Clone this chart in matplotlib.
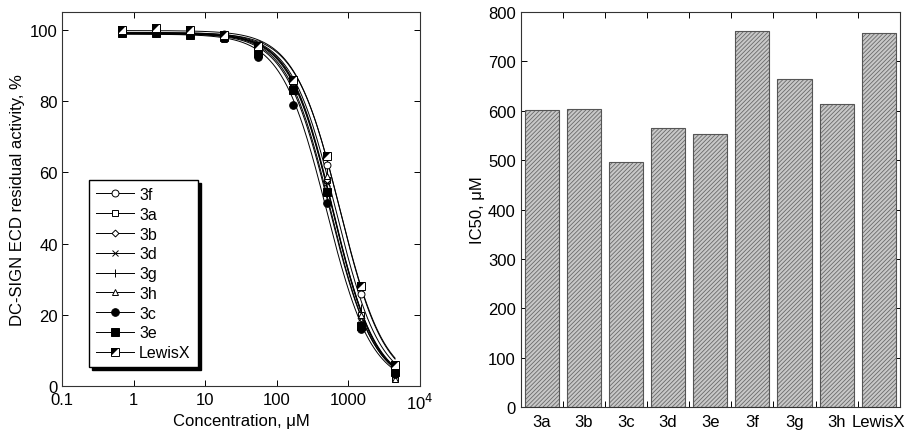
import numpy as np
import matplotlib
import matplotlib.pyplot as plt
from matplotlib.path import Path
from matplotlib.ticker import FixedLocator, FixedFormatter, NullLocator
from matplotlib.legend_handler import HandlerTuple

plt.rcParams['font.family'] = ['Liberation Sans', 'DejaVu Sans']
plt.rcParams['hatch.linewidth'] = 0.6

# concentrations (uM), 3-fold dilution
conc = [0.69, 2.06, 6.17, 18.5, 55.6, 167, 500, 1500, 4500]

# residual activity, % (order as in legend)
names = ['3f', '3a', '3b', '3d', '3g', '3h', '3c', '3e', 'LewisX']
act_3f = [99.5, 99.3, 99.0, 98.8, 96.0, 86.0, 62.0, 26.0, 4.0]
act_3a = [99.2, 99.0, 98.8, 98.0, 95.0, 84.0, 58.0, 20.0, 2.0]
act_3b = [99.0, 99.0, 98.8, 98.2, 95.0, 84.0, 58.0, 19.0, 3.0]
act_3d = [99.0, 99.2, 99.0, 98.0, 95.0, 84.0, 57.0, 19.0, 3.0]
act_3g = [99.5, 99.5, 99.2, 98.5, 95.5, 85.0, 60.0, 22.0, 3.0]
act_3h = [99.3, 99.0, 99.0, 97.5, 95.0, 84.0, 59.0, 20.0, 2.0]
act_3c = [99.0, 99.0, 98.5, 98.0, 92.5, 79.0, 51.5, 16.0, 3.5]
act_3e = [99.0, 99.2, 98.5, 98.0, 93.5, 83.0, 54.5, 17.0, 4.0]
act_lx = [100.0, 100.5, 100.0, 98.5, 95.5, 86.0, 64.5, 28.0, 6.0]
acts = [act_3f, act_3a, act_3b, act_3d, act_3g, act_3h, act_3c, act_3e, act_lx]

# IC50 bar chart
cats = ['3a', '3b', '3c', '3d', '3e', '3f', '3g', '3h', 'LewisX']
ic50 = [602, 604, 496, 565, 552, 761, 665, 613, 758]

# fitted curve parameters (top %, hill slope) per series in legend order
fit_top = [99.2, 99.0, 99.0, 99.0, 99.3, 99.0, 98.8, 98.9, 99.8]
fit_hill = [1.40, 1.45, 1.42, 1.42, 1.40, 1.45, 1.38, 1.40, 1.38]

fig = plt.figure(figsize=(9.2, 4.35), dpi=100)
ax1 = fig.add_axes([0.0674, 0.110, 0.389, 0.860])
ax2 = fig.add_axes([0.566, 0.062, 0.412, 0.908])

# custom half-filled square (upper-left black)
tri = Path([(-1, -1), (-1, 1), (1, 1), (-1, -1)],
           [Path.MOVETO, Path.LINETO, Path.LINETO, Path.CLOSEPOLY])

mk = {'3f': dict(marker='o', mfc='white', ms=5),
      '3a': dict(marker='s', mfc='white', ms=5),
      '3b': dict(marker='D', mfc='white', ms=3.5),
      '3d': dict(marker='x', ms=5),
      '3g': dict(marker='|', ms=6),
      '3h': dict(marker='^', mfc='white', ms=5),
      '3c': dict(marker='o', mfc='black', ms=5.5),
      '3e': dict(marker='s', mfc='black', ms=5.5),
      'LewisX': dict(marker='s', mfc='white', ms=5.5)}

ic_map = dict(zip(cats, ic50))
xs = np.logspace(np.log10(conc[0]), np.log10(conc[-1]), 200)
handles = []
for i, nm in enumerate(names):
    y = fit_top[i] / (1 + (xs / ic_map[nm]) ** fit_hill[i])
    ax1.plot(xs, y, color='black', lw=0.7, zorder=2)
    ax1.plot(conc, acts[i], ls='none', color='black', mec='black', mew=0.7,
             zorder=3, **mk[nm])
    h, = ax1.plot([], [], color='black', lw=0.7, mec='black', mew=0.7, **mk[nm])
    if nm == 'LewisX':
        ax1.plot(conc, acts[i], ls='none', marker=tri, ms=5.5, color='black',
                 mew=0, zorder=4)
        h2, = ax1.plot([], [], ls='none', marker=tri, ms=5.5, color='black', mew=0)
        handles.append((h, h2))
    else:
        handles.append(h)

leg = ax1.legend(handles, names, loc='lower left', bbox_to_anchor=(0.075, 0.05),
                 fontsize=11.5, handlelength=2.4, handletextpad=0.3,
                 labelspacing=0.3, borderpad=0.45, borderaxespad=0,
                 fancybox=False, edgecolor='black', framealpha=1,
                 shadow={'color': 'black', 'alpha': 1, 'ox': 2, 'oy': -2},
                 handler_map={tuple: HandlerTuple(ndivide=1, pad=0)})
leg.get_frame().set_linewidth(1.0)

ax1.set_xscale('log')
ax1.set_xlim(0.1, 1e4)
ax1.set_ylim(0, 105)
ax1.xaxis.set_major_locator(FixedLocator([0.1, 1, 10, 100, 1000, 10000]))
ax1.xaxis.set_major_formatter(FixedFormatter(['0.1', '1', '10', '100', '1000', '10$^4$']))
ax1.xaxis.set_minor_locator(NullLocator())
ax1.set_yticks([0, 20, 40, 60, 80, 100])
ax1.tick_params(direction='in', top=True, right=True, length=4, width=0.7,
                labelsize=12, pad=3)
ax1.tick_params(axis='x', pad=4)
ax1.set_xlabel('Concentration, μM', fontsize=12, labelpad=1)
ax1.set_ylabel('DC-SIGN ECD residual activity, %', fontsize=12, labelpad=4)
for s in ax1.spines.values():
    s.set_linewidth(0.8)
    s.set_color('#333333')

# bars
pos = np.arange(len(cats))
ax2.bar(pos, ic50, width=0.81, facecolor='#c8c8c8', edgecolor='#6a6a6a',
        hatch='////////', linewidth=0, zorder=2)
ax2.bar(pos, ic50, width=0.81, facecolor='none', edgecolor='#555555',
        linewidth=0.8, zorder=3)
ax2.set_xlim(-0.5, len(cats) - 0.5)
ax2.set_ylim(0, 800)
ax2.set_xticks(pos)
ax2.set_xticklabels(cats)
ax2.xaxis.set_minor_locator(FixedLocator(pos[:-1] + 0.5))
ax2.tick_params(axis='x', which='major', length=0, labelsize=12, pad=5)
ax2.tick_params(axis='x', which='minor', direction='in', top=True, bottom=True,
                length=4, width=0.7)
ax2.set_yticks(np.arange(0, 801, 100))
ax2.tick_params(axis='y', direction='in', right=True, length=4, width=0.7,
                labelsize=12)
ax2.set_ylabel('IC50, μM', fontsize=12, labelpad=2)
for s in ax2.spines.values():
    s.set_linewidth(0.8)
    s.set_color('#333333')

fig.savefig('out.png', dpi=100)
